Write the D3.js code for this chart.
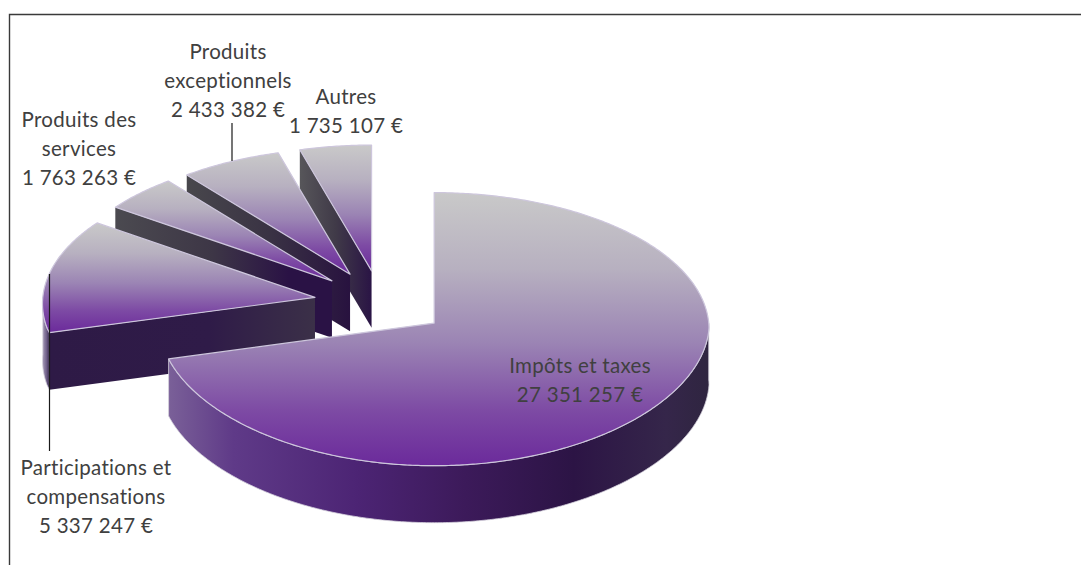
<!DOCTYPE html>
<html lang="fr">
<head>
<meta charset="utf-8">
<script src="https://cdn.jsdelivr.net/npm/d3@7/dist/d3.min.js"></script>
<style>
  html, body { margin: 0; padding: 0; background: #fff; }
  svg { display: block; }
  text { font-family: Lato, "Open Sans", sans-serif; font-size: 20.5px; letter-spacing: 0.3px; font-variant-ligatures: none; fill: #404040; }
</style>
</head>
<body>
<svg id="chart" width="1081" height="565"></svg>
<script>
// Recettes par origine
const categories = ["Impôts et taxes", "Participations et compensations", "Produits des services", "Produits exceptionnels", "Autres"];
const amounts = [27351257, 5337247, 1763263, 2433382, 1735107];

// Découpage des libellés sur plusieurs lignes
const labelLines = [["Impôts et taxes"], ["Participations et", "compensations"], ["Produits des", "services"], ["Produits", "exceptionnels"], ["Autres"]];
const labelAnchors = [[580, 366], [96, 468], [79, 120], [228, 52], [346, 97]];

// Dégradés des parois, de gauche à droite
const outerWallStops = [
  [[0, "#7a6098"], [0.12, "#5f3a88"], [0.35, "#4c2474"], [0.55, "#3c1a5a"], [0.75, "#2c1445"], [0.92, "#35264a"], [1, "#2f2540"]],
  [[0, "#a79cb8"], [0.6, "#6f5f88"], [1, "#3a2a50"]],
  [[0, "#444"], [1, "#444"]],
  [[0, "#444"], [1, "#444"]],
  [[0, "#444"], [1, "#444"]]
];
const radialWallStops = [
  [[0, "#2f1a48"], [1, "#2f1a48"]],
  [[0, "#2e1a46"], [0.6, "#2f1b48"], [1, "#3b3048"]],
  [[0, "#4b4a50"], [0.45, "#3d3646"], [0.8, "#2a1245"], [1, "#2a1245"]],
  [[0, "#48474c"], [0.5, "#3a3344"], [1, "#28123f"]],
  [[0, "#57565a"], [0.5, "#403a48"], [1, "#2a1445"]]
];

const width = 1081, height = 565;
const svg = d3.select("#chart");
const defs = svg.append("defs");

// Géométrie de la projection : tarte éclatée vue en perspective
const centerX = 381, centerY = 303;
const radius = 275, explode = 67, depth = 57;
const yTilt = 0.49, yPersp = 0.00008;
// Les points éloignés se resserrent horizontalement
const xShrink = d3.scaleLinear().domain([-330, 50]).range([0.937, 1]).clamp(true);

const slices = d3.pie().sort(null).value(d => d).startAngle(0).endAngle(2 * Math.PI)(amounts);

function project(slice, angle, r, z) {
  const mid = (slice.startAngle + slice.endAngle) / 2;
  const gy = -explode * Math.cos(mid) - r * Math.cos(angle);
  const x = centerX + explode * Math.sin(mid) + r * Math.sin(angle) * xShrink(gy);
  return [x, centerY + gy * (yTilt + yPersp * gy) + z];
}

const line = d3.line();
const closed = pts => line(pts) + "Z";

function arcPoints(slice, from, to, z) {
  const n = Math.max(2, Math.ceil((to - from) / 0.01));
  return d3.range(n + 1).map(i => project(slice, from + (to - from) * i / n, radius, z));
}

function addGradient(id, stops, x1, x2) {
  const g = defs.append("linearGradient").attr("id", id)
    .attr("gradientUnits", "userSpaceOnUse")
    .attr("x1", x1).attr("x2", x2).attr("y1", 0).attr("y2", 0);
  stops.forEach(([o, c]) => g.append("stop").attr("offset", o).attr("stop-color", c));
}

// Face supérieure : du gris vers le violet
const topGradient = defs.append("linearGradient").attr("id", "top-face")
  .attr("x1", 0).attr("x2", 0).attr("y1", 0).attr("y2", 1);
[[0, "#c9c9c9"], [0.28, "#b7b0c0"], [0.55, "#9b84b4"], [0.8, "#7d4aa4"], [1, "#6b2a9b"]]
  .forEach(([o, c]) => topGradient.append("stop").attr("offset", o).attr("stop-color", c));

// Dessin de l'arrière vers l'avant
d3.range(slices.length).reverse().forEach(i => {
  const s = slices[i];
  const group = svg.append("g").attr("class", "slice");

  // Paroi radiale de départ, visible quand elle regarde vers l'avant
  if (Math.sin(s.startAngle) < -1e-6) {
    const apexTop = project(s, 0, 0, 0), apexBottom = project(s, 0, 0, depth);
    const rimTop = project(s, s.startAngle, radius, 0), rimBottom = project(s, s.startAngle, radius, depth);
    addGradient("radial-" + i, radialWallStops[i], rimTop[0], apexTop[0]);
    group.append("path").attr("d", closed([apexTop, rimTop, rimBottom, apexBottom]))
      .attr("fill", `url(#radial-${i})`);
  }

  // Paroi extérieure sur la moitié avant de l'arc
  const from = Math.max(s.startAngle, Math.PI / 2), to = Math.min(s.endAngle, 3 * Math.PI / 2);
  if (to > from) {
    const upper = arcPoints(s, from, to, 0), lower = arcPoints(s, from, to, depth).reverse();
    const xs = upper.map(p => p[0]);
    addGradient("outer-" + i, outerWallStops[i], d3.min(xs), d3.max(xs));
    group.append("path").attr("d", closed(upper.concat(lower)))
      .attr("fill", `url(#outer-${i})`)
      .attr("stroke", "#d4d0dc").attr("stroke-width", 0.8);
  }

  // Face supérieure
  const face = [project(s, 0, 0, 0)].concat(arcPoints(s, s.startAngle, s.endAngle, 0));
  group.append("path").attr("d", closed(face))
    .attr("fill", "url(#top-face)")
    .attr("stroke", "#cdc6dc").attr("stroke-width", 1.2).attr("stroke-linejoin", "round");
});

// Traits de rappel
const leaders = [[1, 49.5, 274, 451], [3, 232, 123, 161]];
leaders.forEach(([, x, y1, y2]) => {
  svg.append("line").attr("x1", x).attr("x2", x).attr("y1", y1).attr("y2", y2)
    .attr("stroke", "#1a1a1a").attr("stroke-width", 1.2);
});

// Libellés : catégorie puis montant
const fr = d3.formatLocale({ decimal: ",", thousands: " ", grouping: [3], currency: ["", " €"] });
const money = v => fr.format(",")(v) + " €";
const lineHeight = 29;
categories.forEach((name, i) => {
  const rows = labelLines[i].concat(money(amounts[i]));
  const [ax, ay] = labelAnchors[i];
  svg.append("text").attr("text-anchor", "middle").attr("aria-label", name)
    .selectAll("tspan").data(rows).join("tspan")
    .attr("x", ax).attr("y", (d, k) => ay + k * lineHeight).attr("dy", "0.35em")
    .text(d => d);
});

// Cadre : haut et gauche
svg.append("path").attr("d", `M${width},14.5H9.5V${height}`)
  .attr("fill", "none").attr("stroke", "#3a3a3a").attr("stroke-width", 1.4);
</script>
</body>
</html>
